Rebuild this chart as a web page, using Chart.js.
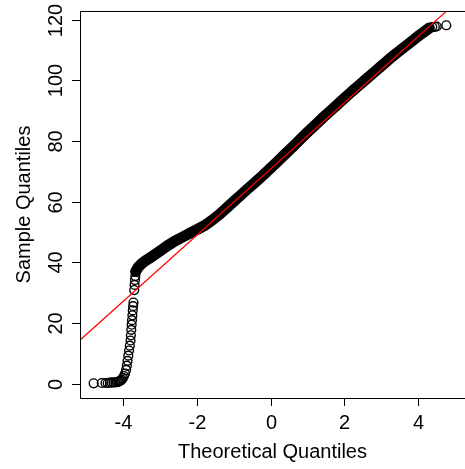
<!DOCTYPE html>
<html>
<head>
<meta charset="utf-8">
<script src="https://cdn.jsdelivr.net/npm/chart.js@4.4.0/dist/chart.umd.min.js"></script>
<style>
  body { margin: 0; background: #fff; }
  canvas { display: block; }
</style>
</head>
<body>
<canvas id="qqChart" width="465" height="469"></canvas>
<script>
// values
const lowTailX = [-4.80, -4.58, -4.48, -4.42, -4.36, -4.31, -4.26, -4.21, -4.17, -4.13, -4.10, -4.07, -4.04, -4.01, -3.98, -3.95, -3.92, -3.90, -3.88, -3.86, -3.84, -3.82, -3.80, -3.79, -3.78, -3.77, -3.76, -3.75, -3.74, -3.73, -3.72, -3.70, -3.69, -3.68, -3.67];
const lowTailY = [0.2, 0.3, 0.3, 0.3, 0.4, 0.4, 0.5, 0.5, 0.6, 0.7, 0.9, 1.1, 1.4, 1.9, 2.6, 3.4, 4.6, 6.0, 7.6, 9.3, 11.0, 12.6, 14.3, 16.0, 17.8, 19.5, 21.0, 22.6, 24.2, 25.6, 26.8, 30.9, 32.6, 34.2, 35.5];

const bodyX = [-3.66, -3.60, -3.50, -3.40, -3.20, -3.00, -2.80, -2.60, -2.40, -2.20, -2.00, -1.80, -1.60, -1.40, -1.20, -1.00, -0.80, -0.60, -0.40, -0.20, 0.00, 0.20, 0.40, 0.60, 0.80, 1.00, 1.20, 1.40, 1.60, 1.80, 2.00, 2.20, 2.40, 2.60, 2.80, 3.00, 3.20, 3.40, 3.60, 3.80, 4.00, 4.20, 4.30];
const bodyY = [37.0, 38.3, 39.6, 40.5, 42.1, 43.8, 45.5, 47.0, 48.3, 49.6, 50.8, 52.1, 53.8, 55.7, 57.9, 60.1, 62.3, 64.5, 66.6, 68.8, 71.1, 73.4, 75.8, 78.1, 80.5, 82.9, 85.2, 87.5, 89.7, 91.9, 94.1, 96.3, 98.4, 100.5, 102.6, 104.7, 106.8, 108.8, 110.7, 112.6, 114.5, 116.3, 117.2];

const highTailX = [4.38, 4.45, 4.50, 4.76];
const highTailY = [117.5, 117.6, 117.7, 118.1];

// qqline end points
const refLineX = [-5.3, 5.3];
const refLineY = [13.0, 128.6];

const xTicks = [-4, -2, 0, 2, 4];
const yTicks = [0, 20, 40, 60, 80, 100, 120];

const xTitle = 'Theoretical Quantiles';
const yTitle = 'Sample Quantiles';

const FONT = '20px "Liberation Sans", Arial, sans-serif';

function toPoints(xs, ys) {
    return xs.map((x, i) => ({ x: x, y: ys[i] }));
}

// R style box, ticks and labels
const rAxes = {
    id: 'rAxes',
    afterDraw(chart) {
        const c = chart.ctx;
        const a = chart.chartArea;
        const xs = chart.scales.x;
        const ys = chart.scales.y;
        c.save();
        c.strokeStyle = '#000';
        c.fillStyle = '#000';
        c.lineWidth = 1;
        c.beginPath();
        c.rect(Math.round(a.left) + 0.5, Math.round(a.top) + 0.5, a.right - a.left + 10, a.bottom - a.top);
        c.stroke();

        c.font = FONT;
        c.textAlign = 'center';
        c.textBaseline = 'alphabetic';
        xTicks.forEach(v => {
            const px = Math.round(xs.getPixelForValue(v)) + 0.5;
            c.beginPath();
            c.moveTo(px, a.bottom);
            c.lineTo(px, a.bottom + 8);
            c.stroke();
            c.fillText(String(v), px, 428.5);
        });
        yTicks.forEach(v => {
            const py = Math.round(ys.getPixelForValue(v)) + 0.5;
            c.beginPath();
            c.moveTo(a.left - 8, py);
            c.lineTo(a.left, py);
            c.stroke();
            c.save();
            c.translate(62, py);
            c.rotate(-Math.PI / 2);
            c.fillText(String(v), 0, 0);
            c.restore();
        });

        c.fillText(xTitle, (a.left + 465) / 2, 458);
        c.save();
        c.translate(29.5, (a.top + a.bottom) / 2);
        c.rotate(-Math.PI / 2);
        c.fillText(yTitle, 0, 0);
        c.restore();
        c.restore();
    }
};

document.addEventListener("DOMContentLoaded", function() {
    const ctx = document.getElementById('qqChart').getContext('2d');
    const circle = {
        pointStyle: 'circle',
        pointRadius: 4.4,
        pointBorderWidth: 1.4,
        pointBorderColor: '#000',
        pointBackgroundColor: 'rgba(0,0,0,0)',
        pointHoverRadius: 4.4
    };
    const qqChart = new Chart(ctx, {
        type: 'scatter',
        data: {
            datasets: [{
                label: 'qqline',
                data: toPoints(refLineX, refLineY),
                showLine: true,
                borderColor: '#ff0000',
                borderWidth: 1.2,
                pointRadius: 0,
                order: 0
            }, {
                label: 'sample',
                data: toPoints(bodyX, bodyY),
                showLine: true,
                borderColor: '#000',
                borderWidth: 11,
                borderCapStyle: 'round',
                borderJoinStyle: 'round',
                ...circle,
                order: 1
            }, {
                label: 'tails',
                data: toPoints(lowTailX, lowTailY).concat(toPoints(highTailX, highTailY)),
                showLine: false,
                ...circle,
                order: 2
            }]
        },
        options: {
            responsive: false,
            animation: false,
            layout: {
                padding: { left: 80, top: 11, right: 0, bottom: 71 }
            },
            plugins: {
                legend: { display: false },
                tooltip: { enabled: false }
            },
            scales: {
                x: { type: 'linear', display: false, min: -5.17, max: 5.11 },
                y: { type: 'linear', display: false, min: -4.64, max: 122.8 }
            }
        },
        plugins: [rAxes]
    });
});
</script>
</body>
</html>
